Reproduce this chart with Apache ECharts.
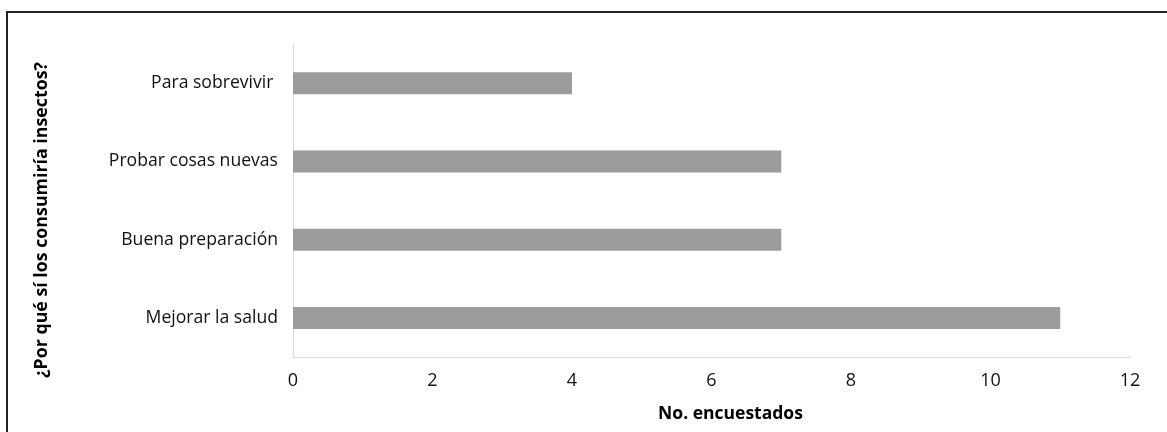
<!DOCTYPE html>
<html>
<head>
<meta charset="utf-8">
<script src="https://cdn.jsdelivr.net/npm/echarts@6/dist/echarts.min.js"></script>
<style>html,body{margin:0;padding:0;background:#fff;}#chart{width:1167px;height:432px;}</style>
</head>
<body>
<div id="chart"></div>
<script>
const categories = ["Para sobrevivir ", "Probar cosas nuevas", "Buena preparación", "Mejorar la salud"];
const values = [4, 7, 7, 11];
const xTicks = [0, 12, 2];
const yTitle = "¿Por qué sí los consumiría insectos?";
const xTitle = "No. encuestados";

const FONT = "'Open Sans', sans-serif";
const chart = echarts.init(document.getElementById('chart'), null, {renderer: 'canvas'});
chart.setOption({
  animation: false,
  backgroundColor: '#ffffff',
  grid: {left: 293, right: 37, top: 44, bottom: 75, containLabel: false},
  xAxis: {
    type: 'value', min: xTicks[0], max: xTicks[1], interval: xTicks[2],
    name: xTitle, nameLocation: 'middle', nameGap: 48,
    nameTextStyle: {fontFamily: FONT, fontSize: 17.5, fontWeight: 'bold', color: '#000', padding: [0, 0, 0, 38]},
    axisLine: {show: true, lineStyle: {color: '#d9d9d9', width: 1}},
    axisTick: {show: false},
    splitLine: {show: false},
    axisLabel: {fontFamily: FONT, fontSize: 18, color: '#111', margin: 15}
  },
  yAxis: {
    type: 'category', data: categories, inverse: true,
    axisLine: {show: true, lineStyle: {color: '#d9d9d9', width: 1}},
    axisTick: {show: false},
    axisLabel: {fontFamily: FONT, fontSize: 17.6, color: '#111', margin: 15}
  },
  series: [{
    type: 'bar', data: values, barWidth: 22,
    itemStyle: {color: '#9c9c9c'}
  }],
  graphic: [
    {type: 'rect', shape: {x: 7, y: 12, width: 1200, height: 500}, style: {fill: 'none', stroke: '#222', lineWidth: 2}, silent: true},
    {type: 'text', x: 42, y: 220, rotation: Math.PI / 2,
     style: {text: yTitle, fontFamily: FONT, fontSize: 17.8, fontWeight: 'bold', fill: '#000', align: 'center', verticalAlign: 'middle'}}
  ]
});
</script>
</body>
</html>
